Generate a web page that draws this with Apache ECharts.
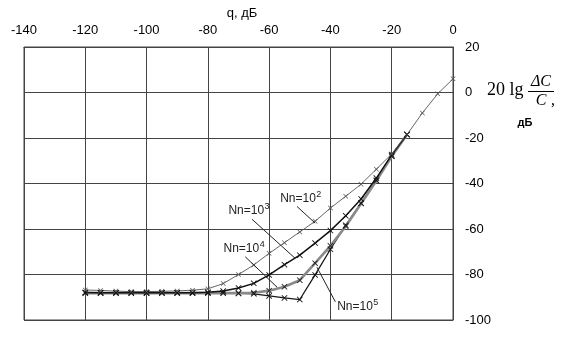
<!DOCTYPE html>
<html>
<head>
<meta charset="utf-8">
<script src="https://cdn.jsdelivr.net/npm/echarts@6/dist/echarts.min.js"></script>
<style>
  html, body { margin: 0; padding: 0; background: #fff; }
  #chart { width: 562px; height: 340px; }
</style>
</head>
<body>
<div id="chart"></div>
<script>
// q, dB — points every 5 dB
const qFull = [-120, -115, -110, -105, -100, -95, -90, -85, -80, -75, -70, -65, -60,
  -55, -50, -45, -40, -35, -30, -25, -20, -15, -10, -5, 0]
const qShort = qFull.slice(0, 22) // to -15

const nn2 = [-86.8, -87, -87.3, -87.5, -87.5, -87.4, -87.2, -86.9, -86.3, -84, -80, -75.8, -70.7,
  -66, -61.3, -56.6, -50.8, -45.6, -40.3, -33.7, -27, -18.5, -9, -0.6, 6]
const nn3 = [-87.9, -88, -88, -88, -88, -88, -88, -88, -87.8, -87.3, -85.9, -83.9, -80.2,
  -75.7, -71.5, -66.2, -60.7, -54.2, -46.8, -37.6, -27.4, -18.5]
const nn4 = [-88.2, -88.2, -88.2, -88.2, -88.2, -88.2, -88.2, -88.2, -88.2, -88.2, -88.2, -88, -87.1,
  -85.4, -82.5, -75, -67.4, -58.8, -48.8, -38.8, -28, -18.5]
const nn5 = [-88, -88, -88, -88, -88, -88, -88, -88, -88, -88, -88.3, -88.5, -89.4,
  -90.3, -91, -80.2, -68.9, -58.3, -48.6, -38.6, -28, -18.5]

const xTicks = { min: -140, max: 0, step: 20 }
const yTicks = { min: -100, max: 20, step: 20 }

const labelNames = ['2', '3', '4', '5']
// text anchor (left, baseline) and leader line ends, in data units
const labelPos = [[-56.4, -49.4], [-73.3, -54.7], [-74.9, -71.4], [-37.8, -97]]
const leaders = [
  [[-50.9, -50.1], [-45, -57.4]],
  [[-65.6, -55.7], [-51.5, -72.9]],
  [[-67.8, -72.2], [-57.4, -85.6]],
  [[-44.4, -76.8], [-38.4, -92]]
]

const xMark = 'path://M0,1L1,0L5,4L9,0L10,1L6,5L10,9L9,10L5,6L1,10L0,9L4,5Z'
const font = 'Liberation Sans, Arial, sans-serif'
const serif = 'Liberation Serif, Times New Roman, serif'

function zip(xs, ys) {
  return ys.map((v, i) => [xs[i], v])
}

function makeSeries(name, xs, ys, lineColor, width, markColor, size) {
  return {
    name: name,
    type: 'line',
    data: zip(xs, ys),
    symbol: xMark,
    symbolSize: size,
    showAllSymbol: true,
    lineStyle: { color: lineColor, width: width },
    itemStyle: { color: markColor },
    z: 3
  }
}

function textWidth(str, f) {
  const ctx = document.createElement('canvas').getContext('2d')
  ctx.font = f
  return ctx.measureText(str).width
}

const chart = echarts.init(document.getElementById('chart'))

const series = [
  makeSeries('Nn=10^5', qShort, nn5, '#1a1a1a', 1.3, '#111', 6),
  makeSeries('Nn=10^4', qShort, nn4, '#8a8a8a', 2.6, '#222', 6),
  makeSeries('Nn=10^3', qShort, nn3, '#111', 1.5, '#111', 6),
  makeSeries('Nn=10^2', qFull, nn2, '#555', 0.9, '#555', 5)
]

series.push({
  type: 'line',
  data: [],
  silent: true,
  markLine: {
    silent: true,
    symbol: 'none',
    label: { show: false },
    lineStyle: { color: '#222', width: 1, type: 'solid' },
    data: leaders.map(l => [{ coord: l[0] }, { coord: l[1] }])
  }
})

chart.setOption({
  animation: false,
  backgroundColor: '#fff',
  grid: { left: 24, right: 109, top: 47, bottom: 20 },
  xAxis: {
    type: 'value',
    position: 'top',
    min: xTicks.min,
    max: xTicks.max,
    interval: xTicks.step,
    axisLine: { show: true, onZero: false, lineStyle: { color: '#444', width: 1 } },
    axisTick: { show: false },
    axisLabel: { color: '#000', fontFamily: font, fontSize: 13, margin: 10 },
    splitLine: { show: true, lineStyle: { color: '#444', width: 1 } }
  },
  yAxis: {
    type: 'value',
    position: 'right',
    min: yTicks.min,
    max: yTicks.max,
    interval: yTicks.step,
    axisLine: { show: true, onZero: false, lineStyle: { color: '#444', width: 1 } },
    axisTick: { show: false },
    axisLabel: { color: '#000', fontFamily: font, fontSize: 13, margin: 12 },
    splitLine: { show: true, lineStyle: { color: '#444', width: 1 } }
  },
  series: series
})

// left and bottom frame edges
const tl = chart.convertToPixel({ gridIndex: 0 }, [xTicks.min, yTicks.max])
const br = chart.convertToPixel({ gridIndex: 0 }, [xTicks.max, yTicks.min])

const graphics = [
  {
    type: 'rect',
    shape: { x: tl[0], y: tl[1], width: br[0] - tl[0], height: br[1] - tl[1] },
    style: { fill: 'none', stroke: '#444', lineWidth: 1 },
    silent: true
  },
  {
    type: 'text', x: 242, y: 13,
    style: { text: 'q, дБ', font: '13px ' + font, fill: '#000', textAlign: 'center', textVerticalAlign: 'middle' }
  },
  {
    type: 'text', x: 487, y: 99,
    style: { text: '20 lg', font: '18px ' + serif, fill: '#000', textVerticalAlign: 'bottom' }
  },
  {
    type: 'text', x: 541, y: 90,
    style: { text: 'ΔC', font: 'italic 16px ' + serif, fill: '#000', textAlign: 'center', textVerticalAlign: 'bottom' }
  },
  {
    type: 'line', shape: { x1: 528, y1: 91.5, x2: 554, y2: 91.5 }, style: { stroke: '#000', lineWidth: 1 }
  },
  {
    type: 'text', x: 541, y: 93,
    style: { text: 'C', font: 'italic 16px ' + serif, fill: '#000', textAlign: 'center', textVerticalAlign: 'top' }
  },
  {
    type: 'text', x: 551, y: 93,
    style: { text: ',', font: '16px ' + serif, fill: '#000', textVerticalAlign: 'top' }
  },
  {
    type: 'text', x: 525, y: 123,
    style: { text: 'дБ', font: 'bold 11px ' + font, fill: '#000', textAlign: 'center', textVerticalAlign: 'middle' }
  }
]

const baseFont = '12px ' + font
const baseW = textWidth('Nn=10', baseFont)

labelNames.forEach((p, i) => {
  const pt = chart.convertToPixel({ gridIndex: 0 }, labelPos[i])
  graphics.push({
    type: 'text',
    x: pt[0],
    y: pt[1],
    style: { text: 'Nn=10', font: baseFont, fill: '#222', textVerticalAlign: 'bottom' }
  })
  graphics.push({
    type: 'text',
    x: pt[0] + baseW + 0.5,
    y: pt[1] - 6,
    style: { text: p, font: '9px ' + font, fill: '#222', textVerticalAlign: 'bottom' }
  })
})

chart.setOption({ graphic: graphics })
</script>
</body>
</html>
